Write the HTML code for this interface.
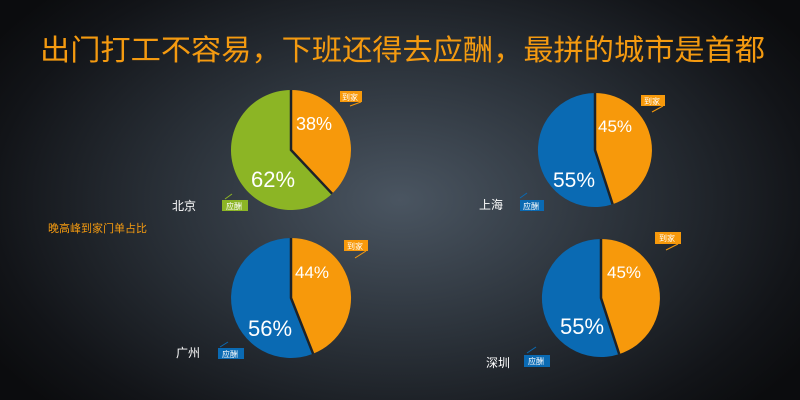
<!DOCTYPE html>
<html><head><meta charset="utf-8"><style>
html,body{margin:0;padding:0}
body{width:800px;height:400px;overflow:hidden;background:radial-gradient(ellipse 480px 300px at 400px 200px,#4a5561 0%,#2c333b 45%,#121418 85%,#0b0c0e 100%);font-family:"Liberation Sans","Noto Sans CJK SC",sans-serif}
</style></head><body>
<svg width="800" height="400" style="position:absolute;left:0;top:0" font-family="Liberation Sans, Noto Sans CJK SC, sans-serif">
<text x="40" y="60" font-size="29" fill="#f49a10" textLength="725" lengthAdjust="spacingAndGlyphs">出门打工不容易，下班还得去应酬，最拼的城市是首都</text>
<text x="48" y="232" font-size="11" fill="#f49a10">晚高峰到家门单占比</text>

<!-- Beijing -->
<path d="M291,150 L291,90 A60,60 0 0 1 332.1,193.7 Z" fill="#f7990b"/>
<path d="M291,150 L332.1,193.7 A60,60 0 1 1 291,90 Z" fill="#8cb525"/>
<polyline points="291,90 291,150 332.1,193.7" fill="none" stroke="#1d2228" stroke-width="2.5"/>
<text x="296" y="130" font-size="18" fill="#fff">38%</text>
<text x="251" y="187" font-size="22" fill="#fff">62%</text>
<text x="172" y="210" font-size="12" fill="#fff">北京</text>
<rect x="340" y="91" width="22" height="11" fill="#f7990b"/><text x="342" y="100" font-size="8" fill="#fff">到家</text>
<line x1="350" y1="106" x2="361" y2="102" stroke="#f7990b"/>
<rect x="222" y="200" width="26" height="11" fill="#8cb525"/><text x="226" y="209" font-size="8" fill="#fff">应酬</text>
<line x1="225" y1="199" x2="232" y2="194" stroke="#8cb525"/>

<!-- Shanghai -->
<path d="M595,150 L595,93 A57,57 0 0 1 612.6,204.2 Z" fill="#f7990b"/>
<path d="M595,150 L612.6,204.2 A57,57 0 1 1 595,93 Z" fill="#0a6ab3"/>
<polyline points="595,93 595,150 612.6,204.2" fill="none" stroke="#1d2228" stroke-width="2.5"/>
<text x="598" y="132" font-size="17" fill="#fff">45%</text>
<text x="553" y="187" font-size="21" fill="#fff">55%</text>
<text x="479" y="209" font-size="12" fill="#fff">上海</text>
<rect x="641" y="95" width="24" height="11" fill="#f7990b"/><text x="644" y="104" font-size="8" fill="#fff">到家</text>
<line x1="652" y1="112" x2="663" y2="106" stroke="#f7990b"/>
<rect x="520" y="200" width="24" height="11" fill="#0a6ab3"/><text x="523" y="209" font-size="8" fill="#fff">应酬</text>
<line x1="520" y1="198" x2="527" y2="193" stroke="#0a6ab3"/>

<!-- Guangzhou -->
<path d="M291,298 L291,238 A60,60 0 0 1 313.1,353.8 Z" fill="#f7990b"/>
<path d="M291,298 L313.1,353.8 A60,60 0 1 1 291,238 Z" fill="#0a6ab3"/>
<polyline points="291,238 291,298 313.1,353.8" fill="none" stroke="#1d2228" stroke-width="2.5"/>
<text x="295" y="278" font-size="17" fill="#fff">44%</text>
<text x="248" y="336" font-size="22" fill="#fff">56%</text>
<text x="176" y="357" font-size="12" fill="#fff">广州</text>
<rect x="344" y="240" width="24" height="11" fill="#f7990b"/><text x="347" y="249" font-size="8" fill="#fff">到家</text>
<line x1="355" y1="258" x2="366" y2="251" stroke="#f7990b"/>
<rect x="218" y="348" width="26" height="11" fill="#0a6ab3"/><text x="222" y="357" font-size="8" fill="#fff">应酬</text>
<line x1="220" y1="347" x2="228" y2="342" stroke="#0a6ab3"/>

<!-- Shenzhen -->
<path d="M601,298 L601,239 A59,59 0 0 1 619.2,354.1 Z" fill="#f7990b"/>
<path d="M601,298 L619.2,354.1 A59,59 0 1 1 601,239 Z" fill="#0a6ab3"/>
<polyline points="601,239 601,298 619.2,354.1" fill="none" stroke="#1d2228" stroke-width="2.5"/>
<text x="607" y="278" font-size="17" fill="#fff">45%</text>
<text x="560" y="334" font-size="22" fill="#fff">55%</text>
<text x="486" y="367" font-size="12" fill="#fff">深圳</text>
<rect x="655" y="232" width="26" height="12" fill="#f7990b"/><text x="659" y="241" font-size="8" fill="#fff">到家</text>
<line x1="666" y1="250" x2="678" y2="244" stroke="#f7990b"/>
<rect x="524" y="355" width="26" height="12" fill="#0a6ab3"/><text x="528" y="364" font-size="8" fill="#fff">应酬</text>
<line x1="527" y1="353" x2="536" y2="347" stroke="#0a6ab3"/>
</svg>
</body></html>
